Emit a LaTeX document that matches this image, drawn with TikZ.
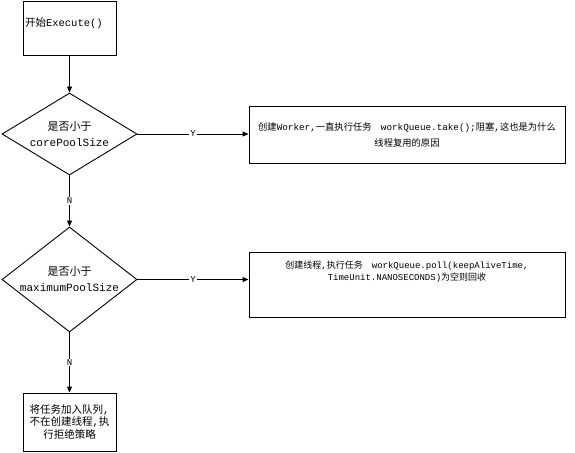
\documentclass[tikz,border=0pt]{standalone}
\usepackage{fontspec}
\setmainfont{Noto Sans CJK SC}
\setmonofont{Liberation Mono}
\usetikzlibrary{arrows.meta,shapes.geometric}
\tikzset{>={Triangle[length=6pt,width=5pt]},every node/.style={font=\fontsize{9}{13}\selectfont},
box/.style={draw,line width=.9pt,inner sep=2pt},cond/.style={draw,diamond,line width=.9pt,inner sep=0pt,minimum width=135pt,font=\fontsize{11}{16}\selectfont},
flow/.style={line width=.9pt,->},yn/.style={midway,fill=white,inner sep=1pt,font=\fontsize{9}{10}\selectfont\ttfamily}}

\begin{document}
\begin{tikzpicture}[x=1pt,y=-1pt]
\useasboundingbox (0,0) rectangle (575,452);
\node[box,minimum width=93pt,minimum height=54pt,text width=89pt,align=left,text depth=12pt,font=\fontsize{10.5}{13}\selectfont] (start) at (69.5,28.5) {开始\texttt{Execute()}};
\node[cond,minimum height=82pt,shape aspect=1.65,align=center] (core) at (69.5,134) {是否小于\\\texttt{corePoolSize}};
\node[cond,minimum height=105pt,shape aspect=1.29,align=center] (max) at (69.5,279.5) {是否小于\\\texttt{maximumPoolSize}};
\node[box,minimum width=316pt,minimum height=57pt,text width=312pt,align=center,font=\fontsize{9.3}{16}\selectfont] (worker) at (407,134.5) {创建\texttt{Worker,}一直执行任务\texttt{~~~workQueue.take();}阻塞\texttt{,}这也是为什么\\线程复用的原因};
\node[box,minimum width=316pt,minimum height=65pt,text width=312pt,align=center,text depth=40pt,font=\fontsize{9}{12.5}\selectfont] (thread) at (407,284.5) {创建线程\texttt{,}执行任务\texttt{~~~workQueue.poll(keepAliveTime,}\\\texttt{TimeUnit.NANOSECONDS)}为空则回收};
\node[box,minimum width=93pt,minimum height=58pt,text width=89pt,align=center,font=\fontsize{10.5}{12.5}\selectfont] (queue) at (69.5,422) {将任务加入队列\texttt{,}\\不在创建线程\texttt{,}执\\行拒绝策略};
\draw[flow] (start)--(core);
\draw[flow] (core.east)--(worker.west|-core.east) node[yn]{Y};
\draw[flow] (core)--(max) node[yn]{N};
\draw[flow] (max.east)--(thread.west|-max.east) node[yn]{Y};
\draw[flow] (max)--(queue) node[yn]{N};
\end{tikzpicture}
\end{document}
